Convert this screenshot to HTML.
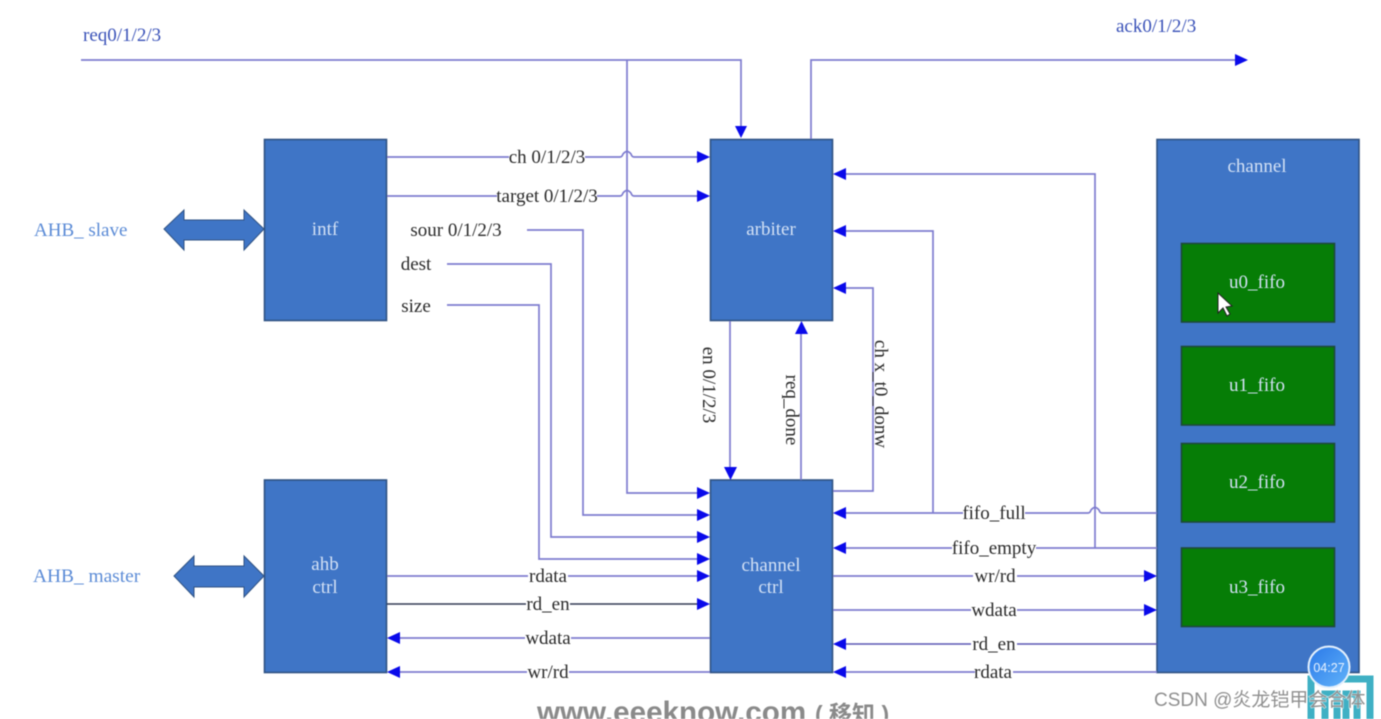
<!DOCTYPE html>
<html><head><meta charset="utf-8"><style>
html,body{margin:0;padding:0;background:#fff;width:1381px;height:719px;overflow:hidden}
svg{display:block;filter:blur(.45px)}
text{font-family:"Liberation Serif","Noto Serif CJK SC",serif;font-size:19px;fill:#2a2a2a}
.w{fill:#d3e1f5;text-anchor:middle}
.b{fill:#3a52b8}
.a{fill:#5b8bd6}
.l{fill:none;stroke:#7e7ccf;stroke-width:1.7}
.box{fill:#3f75c6;stroke:#2f5283;stroke-width:1.6}
.g{fill:#067d06;stroke:#1d4a3a;stroke-width:1.6}
.ar{fill:#0a0aea}
.m{text-anchor:middle}
</style></head><body>
<svg width="1381" height="719" viewBox="0 0 1381 719" xmlns="http://www.w3.org/2000/svg">
<rect class="box" x="264.500" y="139.500" width="122" height="181"/>
<rect class="box" x="264.500" y="480" width="122" height="192.500"/>
<rect class="box" x="710.500" y="139.500" width="122" height="181"/>
<rect class="box" x="710.500" y="480" width="122" height="192.500"/>
<rect class="box" x="1157" y="139.500" width="202" height="533"/>
<rect class="g" x="1181.500" y="243.500" width="153" height="78.500"/>
<rect class="g" x="1181.500" y="346.500" width="153" height="78.500"/>
<rect class="g" x="1181.500" y="443.500" width="153" height="78.500"/>
<rect class="g" x="1181.500" y="548" width="153" height="78.500"/>

<path d="M164 229 L184 210 V220 H244 V210 L264 229 L244 250 V240 H184 V250 Z" fill="#3f75c6" stroke="#2f5283"/>
<path d="M174 576 L194 556 V566 H244 V556 L264 576 L244 597 V587 H194 V597 Z" fill="#3f75c6" stroke="#2f5283"/>

<path class="l" d="M81 60 H741 V128"/>
<path class="l" d="M627 60 V493 H700"/>
<path class="l" d="M811 139 V60 H1236"/>
<path class="l" d="M387 157 H620 q2 0 3 -3 q4 -5 8 0 q1 3 3 3 H698"/>
<path class="l" d="M387 196 H620 q2 0 3 -3 q4 -5 8 0 q1 3 3 3 H698"/>
<path class="l" d="M527 230 H583 V515 H698"/>
<path class="l" d="M447 264 H551 V537 H698"/>
<path class="l" d="M447 305 H539 V559 H698"/>
<path class="l" d="M730 321 V468"/>
<path class="l" d="M801 480 V333"/>
<path class="l" d="M833 491 H873 V288 H845"/>
<path class="l" d="M1157 513 H1102 q-2 0 -3 -3 q-4 -5 -8 0 q-1 3 -3 3 H845"/>
<path class="l" d="M1157 548 H845"/>
<path class="l" d="M1095 548 V174 H845"/>
<path class="l" d="M933 513 V231 H845"/>
<path class="l" d="M833 576 H1144"/>
<path class="l" d="M833 610 H1144"/>
<path d="M1157 644 H845" fill="none" stroke="#5a58b4" stroke-width="1.6"/>
<path class="l" d="M1157 672 H845"/>
<path class="l" d="M387 576 H698"/>
<path d="M387 604 H698" fill="none" stroke="#333a55" stroke-width="1.4"/>
<path class="l" d="M710 638 H399"/>
<path class="l" d="M710 672 H399"/>

<g class="ar">
<path d="M735 126 H747 L741 138 Z"/>
<path d="M1235 54 L1248 60 L1235 66 Z"/>
<path d="M697 151 L710 157 L697 163 Z"/>
<path d="M697 190 L710 196 L697 202 Z"/>
<path d="M697 487 L710 493 L697 499 Z"/>
<path d="M697 509 L710 515 L697 521 Z"/>
<path d="M697 531 L710 537 L697 543 Z"/>
<path d="M697 553 L710 559 L697 565 Z"/>
<path d="M697 570 L710 576 L697 582 Z"/>
<path d="M697 598 L710 604 L697 610 Z"/>
<path d="M724 467 H737 L730.500 480 Z"/>
<path d="M795 334 H808 L801.500 321 Z"/>
<path d="M846 168 L833 174 L846 180 Z"/>
<path d="M846 225 L833 231 L846 237 Z"/>
<path d="M846 282 L833 288 L846 294 Z"/>
<path d="M846 507 L833 513 L846 519 Z"/>
<path d="M846 542 L833 548 L846 554 Z"/>
<path d="M846 638 L833 644 L846 650 Z"/>
<path d="M846 666 L833 672 L846 678 Z"/>
<path d="M1144 570 L1157 576 L1144 582 Z"/>
<path d="M1144 604 L1157 610 L1144 616 Z"/>
<path d="M400 632 L387 638 L400 644 Z"/>
<path d="M400 666 L387 672 L400 678 Z"/>
</g>

<g fill="#fff">
<rect x="509" y="148" width="76" height="18"/>
<rect x="497" y="187" width="100" height="18"/>
<rect x="963" y="504" width="62" height="18"/>
<rect x="952" y="539" width="84" height="18"/>
<rect x="973" y="567" width="44" height="18"/>
<rect x="971" y="601" width="46" height="18"/>
<rect x="971" y="635" width="46" height="18"/>
<rect x="975" y="663" width="38" height="18"/>
<rect x="528" y="567" width="40" height="18"/>
<rect x="526" y="595" width="44" height="18"/>
<rect x="525" y="629" width="46" height="18"/>
<rect x="527" y="663" width="42" height="18"/>
</g>

<g transform="translate(0,1)">
<text class="b" x="83" y="40">req0/1/2/3</text>
<text class="b" x="1116" y="31">ack0/1/2/3</text>
<text class="a" x="34" y="235">AHB_ slave</text>
<text class="a" x="33" y="581" style="font-size:19.400px">AHB_ master</text>

<text class="w" x="325" y="234">intf</text>
<text class="w" x="325" y="569">ahb</text>
<text class="w" x="325" y="592">ctrl</text>
<text class="w" x="771" y="234">arbiter</text>
<text class="w" x="771" y="570">channel</text>
<text class="w" x="771" y="592">ctrl</text>
<text class="w" x="1257" y="171">channel</text>
<text class="w" x="1257" y="287">u0_fifo</text>
<text class="w" x="1257" y="390">u1_fifo</text>
<text class="w" x="1257" y="487">u2_fifo</text>
<text class="w" x="1257" y="592">u3_fifo</text>

<text class="m" x="547" y="162">ch 0/1/2/3</text>
<text class="m" x="547" y="201">target 0/1/2/3</text>
<text class="m" x="456" y="235">sour 0/1/2/3</text>
<text class="m" x="416" y="269">dest</text>
<text class="m" x="416" y="311">size</text>
<text class="m" x="548" y="581">rdata</text>
<text class="m" x="548" y="609">rd_en</text>
<text class="m" x="548" y="643">wdata</text>
<text class="m" x="548" y="677">wr/rd</text>
<text class="m" x="994" y="518">fifo_full</text>
<text class="m" x="994" y="553">fifo_empty</text>
<text class="m" x="995" y="581">wr/rd</text>
<text class="m" x="994" y="615">wdata</text>
<text class="m" x="994" y="649">rd_en</text>
<text class="m" x="993" y="677">rdata</text>
</g>

<text class="m" transform="translate(703,385) rotate(90)">en 0/1/2/3</text>
<text class="m" transform="translate(786,410) rotate(90)">req_done</text>
<text class="m" transform="translate(875,394) rotate(90)">ch x_t0_donw</text>

<path d="M1218 293 V313 L1223 308 L1227 316 L1230 314 L1226 307 L1232 306 Z" fill="#fff" stroke="#222" stroke-width="1"/>

<path d="M1311 719 V679 H1370 V719 M1325 719 V694 H1337 V719 M1346 719 V694 H1357 V719" fill="none" stroke="#3fb0c4" stroke-width="7"/>

<defs><linearGradient id="c" x1="0" y1="0" x2="1" y2="1"><stop offset="0" stop-color="#2a78e8"/><stop offset="1" stop-color="#62b4fa"/></linearGradient></defs>
<circle cx="1329" cy="667" r="20.500" fill="url(#c)" stroke="#e4f0fc" stroke-width="2"/>
<text x="1329" y="672" text-anchor="middle" style="font-family:'Liberation Sans',sans-serif;font-size:12.500px;fill:#e8f3ff">04:27</text>

<text x="537" y="722" style="font-family:'Liberation Sans',sans-serif;font-size:29.600px;font-weight:bold;fill:#8a8a8a">www.eeeknow.com</text>
<text x="815" y="722" style="font-family:'Liberation Sans','Noto Sans CJK SC',sans-serif;font-size:23px;font-weight:bold;fill:#8a8a8a">( 移知 )</text>
<text x="1154" y="706" style="font-family:'Liberation Sans','Noto Sans CJK SC',sans-serif;font-size:19px;fill:#8f8f8f;stroke:#fff;stroke-width:1.500px;stroke-opacity:.6;paint-order:stroke">CSDN @炎龙铠甲会合体</text>
</svg>
</body></html>
